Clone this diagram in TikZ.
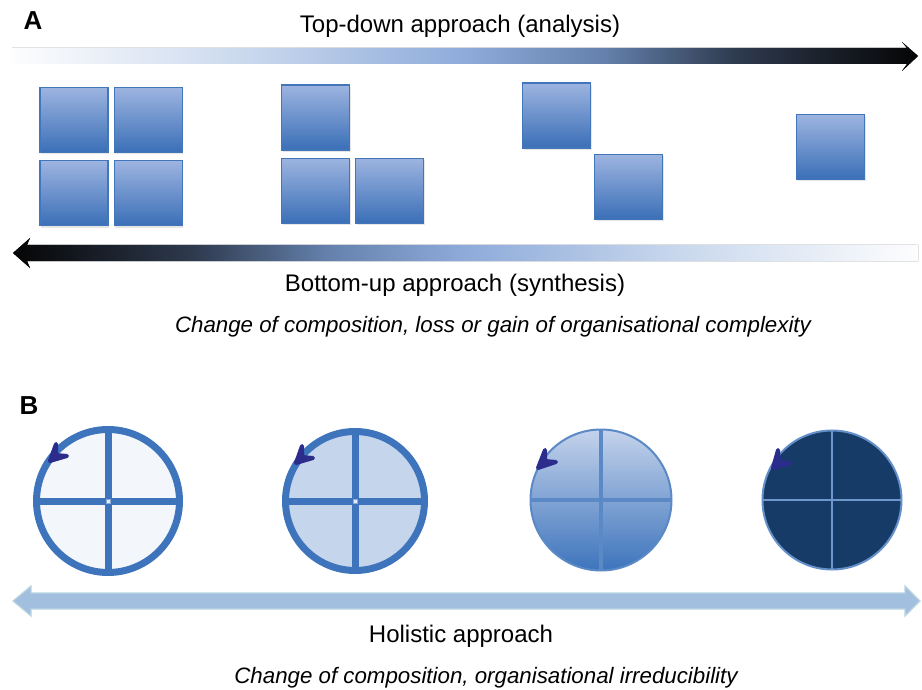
\documentclass[tikz,border=0pt]{standalone}
\usepackage{fontspec}
\setmainfont{Liberation Sans}
\usetikzlibrary{positioning,shadows}

\definecolor{boxtop}{HTML}{9DB4E0}
\definecolor{boxbottom}{HTML}{3A6FB7}
\definecolor{boxline}{HTML}{4275BA}
\definecolor{rim}{HTML}{3D74BC}
\definecolor{navy}{HTML}{173B67}
\definecolor{tick}{HTML}{2B2C8C}
\definecolor{holo}{HTML}{A3BFE0}
\definecolor{hololine}{HTML}{B8D6E2}
\definecolor{fadeA}{HTML}{FDFDFE}
\definecolor{fadeB}{HTML}{CCDAEE}
\definecolor{fadeC}{HTML}{8EABDA}
\definecolor{fadeD}{HTML}{6582AE}
\definecolor{fadeE}{HTML}{2E3A4E}
\definecolor{fadeF}{HTML}{050505}

% light to dark, and dark to light
\pgfdeclarehorizontalshading{analysis}{100bp}{color(0bp)=(fadeA); color(25bp)=(fadeA);
  color(37.5bp)=(fadeB); color(50bp)=(fadeC); color(57.5bp)=(fadeD); color(65bp)=(fadeE);
  color(75bp)=(fadeF); color(100bp)=(fadeF)}
\pgfdeclarehorizontalshading{synthesis}{100bp}{color(0bp)=(fadeF); color(25bp)=(fadeF);
  color(35bp)=(fadeE); color(42.5bp)=(fadeD); color(50bp)=(fadeC); color(62.5bp)=(fadeB);
  color(75bp)=(fadeA); color(100bp)=(fadeA)}

\begin{document}
\begin{tikzpicture}[x=0.5pt,y=-0.5pt,node distance=2.5pt,
		part box/.style={rectangle,draw=boxline,line width=0.6pt,top color=boxtop,bottom color=boxbottom,
			minimum width=34pt,minimum height=32.5pt,inner sep=0pt,
			drop shadow={opacity=0.2,shadow xshift=0.6pt,shadow yshift=-1pt}},
		wheel/.style={circle,draw=rim,line width=3.5pt,inner sep=0pt,outer sep=0pt},
		spoke/.style={draw=rim,line width=3.5pt},
		hub/.style={rectangle,fill=white!88!rim,draw=rim!60,line width=0.3pt,minimum size=2.2pt,inner sep=0pt},
		tick mark/.style={draw=tick,fill=tick,line width=2pt,line cap=round,line join=round},
		caption/.style={font=\fontsize{12}{14}\selectfont,anchor=base},
		note/.style={font=\fontsize{11.15}{13}\selectfont\itshape,anchor=base},
		panel/.style={font=\fontsize{13}{15}\selectfont\bfseries,anchor=base}]

		\useasboundingbox (0,0) rectangle (922,690);

		% panel A
		\node[panel] (A) at (33,30) {A};
		\node[caption] (topdown) at (460,33) {Top-down approach (analysis)};
		\fill[shading=analysis] (12,48) -- (907,48) -- (902,42) -- (918,56) -- (902,71) -- (907,64) -- (12,64) -- cycle;

		\node[part box] (1a) at (74,120) {};
		\node[part box] (1b) [right=of 1a] {};
		\node[part box] (1c) [below=3.5pt of 1a] {};
		\node[part box] (1d) [right=of 1c] {};

		\node[part box] (2a) at (315.5,117.5) {};
		\node[part box] (2b) [below=3.5pt of 2a] {};
		\node[part box] (2c) [right=of 2b] {};

		\node[part box] (3a) at (556.5,115.5) {};
		\node[part box] (3b) at (628.5,187) {};

		\node[part box] (4a) at (830.5,147) {};

		\fill[shading=synthesis] (918,245) -- (27,245) -- (30,238) -- (13,253) -- (30,268) -- (27,261) -- (918,261) -- cycle;
		\node[caption] (bottomup) at (455,292) {Bottom-up approach (synthesis)};
		\node[note] (complexity) at (493,332) {Change of composition, loss or gain of organisational complexity};

		% panel B
		\node[panel] (B) at (29,414) {B};

		\node[wheel,fill=white!94!rim,minimum size=71.5pt] (w1) at (108,501) {};
		\path[spoke] (w1.north) edge (w1.south) (w1.west) edge (w1.east);
		\node[hub] (h1) at (w1.center) {};

		\node[wheel,fill=white!70!rim,minimum size=69.5pt] (w2) at (355,501) {};
		\path[spoke] (w2.north) edge (w2.south) (w2.west) edge (w2.east);
		\node[hub] (h2) at (w2.center) {};

		\node[wheel,draw=rim!85!white,line width=1pt,top color=white!55!boxtop!90!rim,bottom color=rim,minimum size=70.5pt] (w3) at (601,500) {};
		\path[spoke,line width=1.6pt,draw=rim!85!white] (w3.north) edge (w3.south) (w3.west) edge (w3.east);

		\node[wheel,draw=rim!80!white,line width=1pt,fill=navy,minimum size=69.5pt] (w4) at (832,500) {};
		\path[spoke,line width=0.9pt,draw=rim!75!white] (w4.north) edge (w4.south) (w4.west) edge (w4.east);

		% small arrowheads on the rims
		\filldraw[tick mark] ([shift={(-58,-40)}]w1.center) -- ([shift={(-52,-57)}]w1.center) -- ([shift={(-52,-46)}]w1.center) -- ([shift={(-41,-45)}]w1.center) -- cycle;
		\filldraw[tick mark] ([shift={(-59,-38)}]w2.center) -- ([shift={(-53,-55)}]w2.center) -- ([shift={(-53,-44)}]w2.center) -- ([shift={(-42,-43)}]w2.center) -- cycle;
		\filldraw[tick mark] ([shift={(-63,-32)}]w3.center) -- ([shift={(-56,-50)}]w3.center) -- ([shift={(-56,-39)}]w3.center) -- ([shift={(-45,-38)}]w3.center) -- cycle;
		\filldraw[tick mark] ([shift={(-59,-32)}]w4.center) -- ([shift={(-54,-50)}]w4.center) -- ([shift={(-53,-38)}]w4.center) -- ([shift={(-42,-37)}]w4.center) -- cycle;

		\draw[fill=holo,draw=hololine,line width=0.6pt] (31,593) -- (905,593) -- (905,586) -- (920,601) -- (905,616) -- (905,609)
			-- (31,609) -- (31,616) -- (13,601) -- (31,586) -- cycle;
		\node[caption] (holistic) at (461,642) {Holistic approach};
		\node[note] (irreducible) at (486,683) {Change of composition, organisational irreducibility};
		\end{tikzpicture}
\end{document}
